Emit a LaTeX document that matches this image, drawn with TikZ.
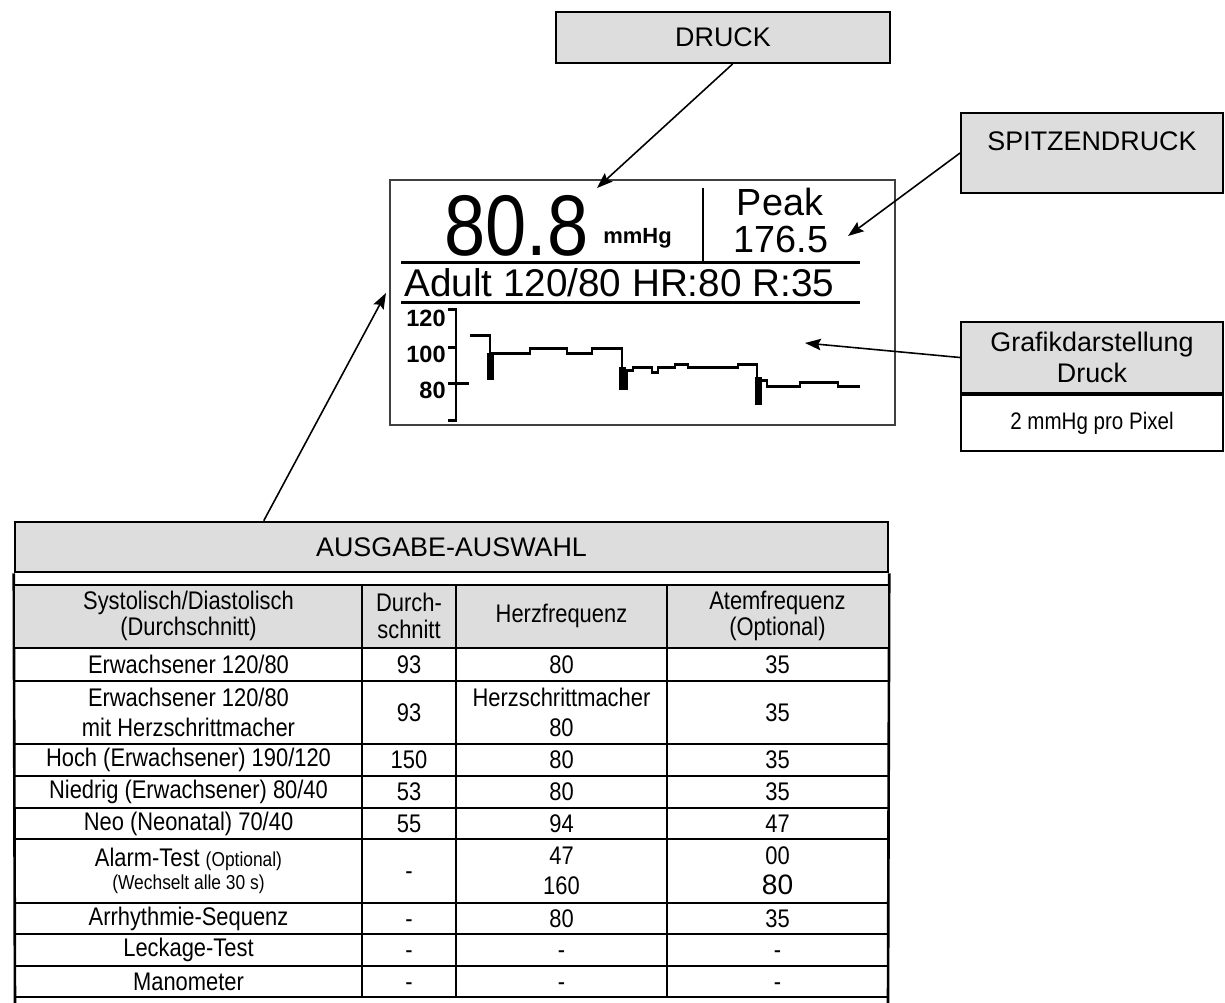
\documentclass[tikz,border=0pt]{standalone}
\usepackage{fontspec}
\setmainfont{Liberation Sans}
\newfontfamily\schmal[FakeStretch=0.86]{Liberation Sans}
\usepackage{xcolor}
\usepackage{tikz}
\usetikzlibrary{arrows.meta,positioning,calc}
\definecolor{kastengrau}{HTML}{DDDDDD}
\newcommand\klein{\fontsize{11.5}{13}\selectfont}
\newcommand\strich{\vphantom{0}-}

\begin{document}
\begin{tikzpicture}[x=0.02cm,y=-0.02cm,
		kasten/.style={draw, line width=1.1pt, fill=kastengrau, inner sep=0pt, align=center, font=\fontsize{15.3}{18}\selectfont},
		pfeil/.style={-{Stealth[length=9pt,width=6.5pt,inset=1.5pt]}, line width=0.9pt},
		zelle/.style={inner sep=0pt, align=center, font=\schmal\fontsize{14.5}{17}\selectfont},
		kopf/.style={zelle, font=\schmal\fontsize{14.5}{15.2}\selectfont},
		gitter/.style={line width=1.5pt},
		lcd/.style={line width=1.7pt},
		ziffer/.style={inner sep=0pt, anchor=base east, font=\bfseries\fontsize{13.4}{14}\selectfont}]

		\useasboundingbox (0,0) rectangle (1225,1002);

		\node[kasten, minimum width=6.68cm, minimum height=1.02cm] (druck) at (723,37.5) {DRUCK};
		\node[kasten, minimum width=5.24cm, minimum height=1.6cm, text depth=0.48cm] (spitze) at (1092,153) {SPITZENDRUCK};
		\node[kasten, minimum width=5.24cm, minimum height=1.42cm] (grafik) at (1092,357.5) {Grafikdarstellung\\Druck};
		\node[kasten, fill=white, minimum width=5.24cm, minimum height=1.12cm, below=0pt of grafik, font=\schmal\fontsize{13.6}{15}\selectfont] (aufloesung) {2 mmHg pro Pixel};

		\node[draw=black!75, line width=1.2pt, minimum width=10.1cm, minimum height=4.9cm, inner sep=0pt] (anzeige) at (642.5,302.5) {};
		\node[anchor=base west, inner sep=0pt, font=\schmal\fontsize{49}{49}\selectfont] (wert) at (444,255) {80.8};
		\node[anchor=base west, inner sep=0pt, font=\bfseries\fontsize{12.5}{13}\selectfont] (einheit) at (603,243) {mmHg};
		\node[anchor=base, inner sep=0pt, font=\fontsize{21.5}{22}\selectfont] (peak) at (780,215) {Peak};
		\node[anchor=base, inner sep=0pt, font=\fontsize{21.5}{22}\selectfont] (peakwert) at (781,252) {176.5};
		\node[anchor=base west, inner sep=0pt, font=\fontsize{22}{22}\selectfont] (modus) at (404,296) {Adult 120/80 HR:80 R:35};
		\draw[lcd] (401,262) -- (860,262);
		\draw[lcd] (401,302) -- (860,302);
		\draw[lcd] (703,188) -- (703,262);

		\node[ziffer] (l120) at (446,326) {120};
		\node[ziffer] (l100) at (446,362) {100};
		\node[ziffer] (l80) at (446,398) {80};
		\draw[lcd] (448,309) -- (456,309) -- (456,420) -- (448,420);
		\draw[lcd] (448,347) -- (456,347);
		\draw[lcd] (448,383) -- (469,383);

		\draw[lcd] (470,335) -- (490,335) -- (490,380);
		\fill (487,353) rectangle (494,380);
		\draw[lcd] (490,353) -- (530,353) -- (530,348) -- (567,348) -- (567,353) -- (592,353) -- (592,348) -- (622,348) -- (622,390);
		\fill (619,367) rectangle (626,390);
		\draw[lcd] (627,390) -- (627,370) -- (633,370) -- (633,367) -- (652,367) -- (652,372) -- (658,372) -- (658,367) -- (675,367) -- (675,364) -- (688,364) -- (688,367) -- (738,367) -- (738,364) -- (757,364) -- (757,405);
		\fill (755,377) rectangle (762,405);
		\draw[lcd] (762,380) -- (767,380) -- (767,386) -- (800,386) -- (800,382) -- (838,382) -- (838,386) -- (860,386);

		\node[kasten, line width=1.5pt, minimum width=17.46cm, minimum height=1.0cm] (titel) at (451.5,547) {AUSGABE-AUSWAHL};
		\draw[gitter] (titel.south west) -- (15,1010);
		\draw[gitter] (titel.south east) -- (888,1010);
		\fill[kastengrau] (15,585) rectangle (888,648);
		\foreach \y in {585,648,681,744,776,808,839,903,934,966,997}
			\draw[gitter] (15,\y) -- (888,\y);
		\foreach \x in {362,456,667}
			\draw[gitter] (\x,585) -- (\x,997);

		\node[kopf] (h1) at (188.5,616) {Systolisch/Diastolisch\\(Durchschnitt)};
		\node[kopf] (h2) at (409,616) {Durch-\\schnitt};
		\node[zelle] (h3) at (561.5,616) {Herzfrequenz};
		\node[kopf] (h4) at (777.5,616) {Atemfrequenz\\(Optional)};

		\foreach \y/\a/\b/\c/\d [count=\i] in {
				664.5/{Erwachsener 120/80}/93/80/35,
				712.5/{Erwachsener 120/80\\mit Herzschrittmacher}/93/{Herzschrittmacher\\80}/35,
				760/{Hoch (Erwachsener) 190/120}/150/80/35,
				792/{Niedrig (Erwachsener) 80/40}/53/80/35,
				823.5/{Neo (Neonatal) 70/40}/55/94/47,
				871/{Alarm-Test {\klein (Optional)}\\[-4pt]{\klein (Wechselt alle 30 s)}}/\strich/{47\\160}/{00\\{\rmfamily\fontsize{16}{17}\selectfont 80}},
				918.5/Arrhythmie-Sequenz/\strich/80/35,
				950/Leckage-Test/\strich/\strich/\strich,
				981.5/Manometer/\strich/\strich/\strich} {
			\node[zelle] (a\i) at (188.5,\y) {\a};
			\node[zelle] (b\i) at (409,\y) {\b};
			\node[zelle] (c\i) at (561.5,\y) {\c};
			\node[zelle] (d\i) at (777.5,\y) {\d};
		}

		\coordinate (druckziel) at (597,188);
		\coordinate (spitzeziel) at (848,236);
		\coordinate (grafikziel) at (805,343);
		\coordinate (auswahlziel) at (386,293);
		\draw[pfeil] (druck.290) -- (druckziel);
		\draw[pfeil] (spitze.west) -- (spitzeziel);
		\draw[pfeil] (grafik.west) -- (grafikziel);
		\draw[pfeil] ($(titel.north west)+(250,0)$) -- (auswahlziel);
	\end{tikzpicture}
\end{document}
